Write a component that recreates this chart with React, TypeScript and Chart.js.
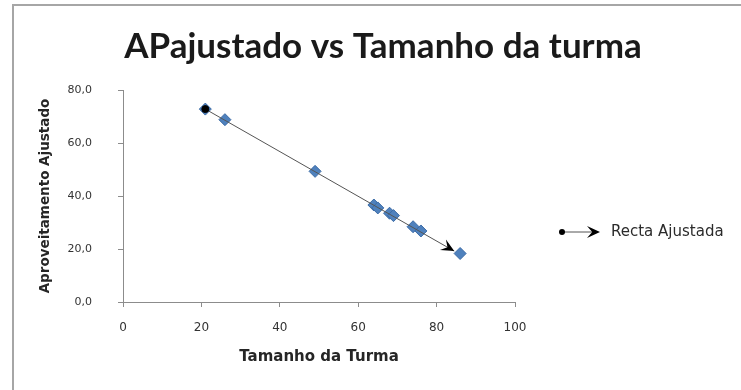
import { useEffect, useRef } from 'react';
import { Chart, registerables } from 'chart.js';

Chart.register(...registerables);

// Observed class sizes and adjusted achievement scores
const classSize = [21, 26, 49, 64, 65, 68, 69, 74, 76, 86];
const adjustedScore = [72.8, 68.8, 49.3, 36.6, 35.5, 33.5, 32.6, 28.4, 26.8, 18.3];

// End points of the fitted line (drawn with an arrow at its end)
const fitX = [21, 84.5];
const fitY = [72.8, 19.2];

const xTickLabels = ['0', '20', '40', '60', '80', '100'];
const yTickLabels = ['0,0', '20,0', '40,0', '60,0', '80,0'];

const chartTitle = 'APajustado vs Tamanho da turma';
const xTitle = 'Tamanho da Turma';
const yTitle = 'Aproveitamento Ajustado';
const fitLabel = 'Recta Ajustada';

const AXIS_COLOR = '#8c8c8c';
const TICK_COLOR = '#333';
const TEXT_FONT = '"DejaVu Sans", sans-serif';

function stealthArrow(ctx: CanvasRenderingContext2D, x: number, y: number, angle: number, len: number, half: number) {
  ctx.save();
  ctx.translate(x, y);
  ctx.rotate(angle);
  ctx.beginPath();
  ctx.moveTo(0, 0);
  ctx.lineTo(-len, -half);
  ctx.lineTo(-len * 0.6, 0);
  ctx.lineTo(-len, half);
  ctx.closePath();
  ctx.fillStyle = '#000';
  ctx.fill();
  ctx.restore();
}

const framePlugin = {
  id: 'frame',
  beforeDraw(chart: Chart) {
    const { ctx, width, height } = chart;
    ctx.save();
    ctx.fillStyle = '#fff';
    ctx.fillRect(0, 0, width, height);
    ctx.strokeStyle = '#a6a6a6';
    ctx.lineWidth = 2;
    ctx.beginPath();
    ctx.moveTo(13, height);
    ctx.lineTo(13, 5);
    ctx.lineTo(width, 5);
    ctx.stroke();
    ctx.restore();
  },
};

const titlePlugin = {
  id: 'bigTitle',
  afterDraw(chart: Chart) {
    const { ctx } = chart;
    ctx.save();
    ctx.font = 'bold 35px Lato, sans-serif';
    ctx.fillStyle = '#1a1a1a';
    ctx.textAlign = 'center';
    ctx.textBaseline = 'middle';
    ctx.fillText(chartTitle, 383, 47);
    ctx.restore();
  },
};

const arrowPlugin = {
  id: 'fitArrow',
  afterDatasetsDraw(chart: Chart) {
    const pts = chart.getDatasetMeta(1).data;
    if (pts.length < 2) return;
    const a = pts[pts.length - 2];
    const b = pts[pts.length - 1];
    const angle = Math.atan2(b.y - a.y, b.x - a.x);
    stealthArrow(chart.ctx, b.x, b.y, angle, 13, 6);
  },
};

const legendPlugin = {
  id: 'fitLegend',
  afterDraw(chart: Chart) {
    const { ctx } = chart;
    const y = 232;
    ctx.save();
    ctx.strokeStyle = '#555';
    ctx.lineWidth = 1;
    ctx.beginPath();
    ctx.moveTo(562, y);
    ctx.lineTo(596, y);
    ctx.stroke();
    ctx.fillStyle = '#000';
    ctx.beginPath();
    ctx.arc(562, y, 3, 0, Math.PI * 2);
    ctx.fill();
    stealthArrow(ctx, 600, y, 0, 13, 6);
    ctx.font = `15px ${TEXT_FONT}`;
    ctx.fillStyle = '#2b2b2b';
    ctx.textAlign = 'left';
    ctx.textBaseline = 'middle';
    ctx.fillText(fitLabel, 611, y);
    ctx.restore();
  },
};

export default function App() {
  const ref = useRef<HTMLCanvasElement | null>(null);

  useEffect(() => {
    if (!ref.current) return;
    const chart = new Chart(ref.current, {
      type: 'scatter',
      data: {
        datasets: [
          {
            label: 'APajustado',
            data: classSize.map((x, i) => ({ x, y: adjustedScore[i] })),
            pointStyle: 'rectRot',
            pointRadius: 6,
            backgroundColor: '#4F81BD',
            borderColor: '#3B6BA6',
            borderWidth: 1,
            order: 1,
          },
          {
            label: fitLabel,
            data: fitX.map((x, i) => ({ x, y: fitY[i] })),
            showLine: true,
            borderColor: '#555',
            borderWidth: 1,
            pointStyle: 'circle',
            pointRadius: [3.5, 0],
            backgroundColor: '#000',
            pointBorderColor: '#000',
            order: 0,
          },
        ],
      },
      options: {
        animation: false,
        responsive: false,
        layout: { padding: { top: 90, right: 226, left: 0, bottom: 0 } },
        plugins: {
          legend: { display: false },
          title: { display: false },
          tooltip: { enabled: false },
        },
        scales: {
          x: {
            type: 'linear',
            min: 0,
            max: 100,
            afterFit: (s: any) => { s.height = 88; },
            ticks: {
              stepSize: 20,
              padding: 14,
              color: TICK_COLOR,
              font: { family: TEXT_FONT, size: 12 },
              callback: (v: any) => xTickLabels[Math.round(Number(v) / 20)],
            },
            grid: { drawOnChartArea: false, drawTicks: true, tickLength: 5, color: AXIS_COLOR },
            border: { display: true, color: AXIS_COLOR, width: 1 },
            title: {
              display: true,
              text: xTitle,
              color: '#262626',
              font: { family: TEXT_FONT, size: 15, weight: 'bold' },
              padding: { top: 0, bottom: 24 },
            },
          },
          y: {
            type: 'linear',
            min: 0,
            max: 80,
            afterFit: (s: any) => { s.width = 123; },
            ticks: {
              stepSize: 20,
              padding: 26,
              color: TICK_COLOR,
              font: { family: TEXT_FONT, size: 11 },
              callback: (v: any) => yTickLabels[Math.round(Number(v) / 20)],
            },
            grid: { drawOnChartArea: false, drawTicks: true, tickLength: 5, color: AXIS_COLOR },
            border: { display: true, color: AXIS_COLOR, width: 1 },
            title: {
              display: true,
              text: yTitle,
              color: '#262626',
              font: { family: TEXT_FONT, size: 13.5, weight: 'bold' },
              padding: { top: 37, bottom: 0 },
            },
          },
        },
      },
      plugins: [framePlugin, arrowPlugin, titlePlugin, legendPlugin],
    });
    return () => chart.destroy();
  }, []);

  return (
    <div style={{ position: 'fixed', left: 0, top: 0, width: 741, height: 390 }}>
      <canvas ref={ref} width={741} height={390} />
    </div>
  );
}
